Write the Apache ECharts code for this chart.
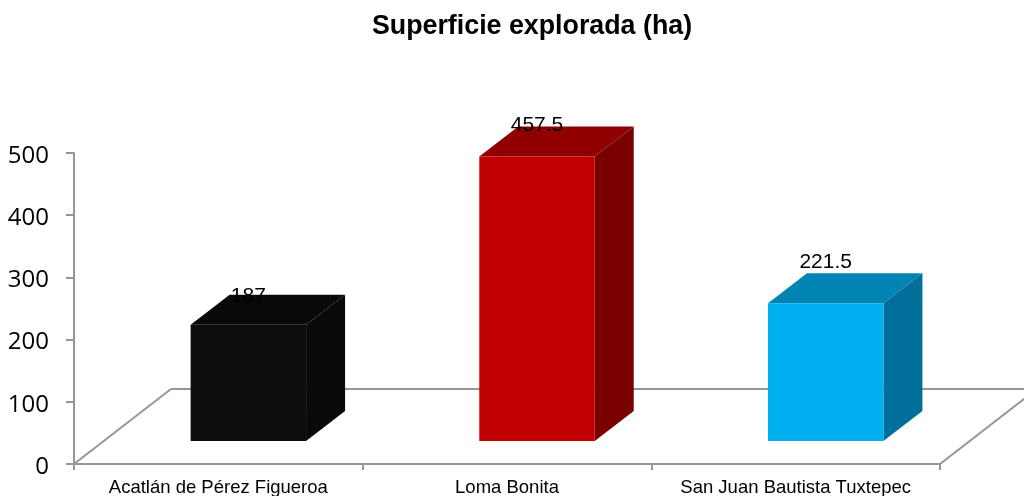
<!DOCTYPE html>
<html>
<head>
<meta charset="utf-8">
<style>html,body{margin:0;padding:0;background:#fff}#c{width:1024px;height:496px}</style>
<script src="https://cdn.jsdelivr.net/npm/echarts@6/dist/echarts.min.js"></script>
</head>
<body>
<div id="c"></div>
<script>
const categories = ['Acatlán de Pérez Figueroa', 'Loma Bonita', 'San Juan Bautista Tuxtepec'];
const values = [187, 457.5, 221.5];
const labels = ['187', '457.5', '221.5'];
const labelLift = [28, 31, 41];
const frontColors = ['#0d0d0d', '#c00000', '#00b0f0'];
const topColors = ['#090909', '#900000', '#0084b4'];
const sideColors = ['#0a0a0a', '#7a0000', '#00709a'];

const AXIS = '#969696';
const DEPTH_X = 39, DEPTH_Y = 30, BASE_LIFT = 23;

function renderBar(params, api) {
  const i = api.value(0), v = api.value(1);
  const band = api.size([1, 0])[0];
  const c0 = api.coord([i, 0]), cv = api.coord([i, v]);
  const w = band * 0.4;
  const x0 = c0[0] + band * 0.104 - w / 2;
  const x1 = x0 + w;
  const yb = c0[1] - BASE_LIFT;
  const yt = cv[1] - BASE_LIFT;
  const dx = DEPTH_X, dy = DEPTH_Y;
  const poly = (pts, fill) => ({ type: 'polygon', shape: { points: pts }, style: { fill: fill } });
  return {
    type: 'group',
    children: [
      poly([[x1, yb], [x1 + dx, yb - dy], [x1 + dx, yt - dy], [x1, yt]], sideColors[i]),
      poly([[x0, yt], [x0 + dx, yt - dy], [x1 + dx, yt - dy], [x1, yt]], topColors[i]),
      poly([[x0, yb], [x1, yb], [x1, yt], [x0, yt]], frontColors[i]),
      { type: 'text', style: {
          text: labels[i], x: (x0 + x1) / 2, y: yt - labelLift[i],
          fill: '#000', font: '21px "Liberation Sans"', align: 'center', verticalAlign: 'middle' } }
    ]
  };
}

function renderFloor(params, api) {
  const band = api.size([1, 0])[0];
  const first = api.coord([0, 0]), last = api.coord([categories.length - 1, 0]);
  const a = [first[0] - band / 2, first[1]], b = [last[0] + band / 2, last[1]];
  const floorDx = 97, floorDy = 75;
  const line = (p, q) => ({ type: 'line', shape: { x1: p[0], y1: p[1], x2: q[0], y2: q[1] },
    style: { stroke: AXIS, lineWidth: 2 } });
  return {
    type: 'group',
    children: [
      line(a, [a[0] + floorDx, a[1] - floorDy]),
      line([a[0] + floorDx, a[1] - floorDy], [b[0] + floorDx, a[1] - floorDy]),
      line(b, [b[0] + floorDx, b[1] - floorDy])
    ]
  };
}

const chart = echarts.init(document.getElementById('c'), null, { renderer: 'canvas' });
chart.setOption({
  animation: false,
  backgroundColor: '#fff',
  title: {
    text: 'Superficie explorada (ha)', left: 527, top: 8, textAlign: 'center',
    textStyle: { fontFamily: 'Liberation Sans', fontSize: 26.8, fontWeight: 'bold', color: '#000' }
  },
  grid: { left: 74, right: 84, top: 153, bottom: 32, outerBoundsMode: 'none' },
  xAxis: {
    type: 'category', data: categories,
    axisLine: { lineStyle: { color: AXIS, width: 2 } },
    axisTick: { show: true, length: 6, alignWithLabel: false, lineStyle: { color: AXIS, width: 2 } },
    axisLabel: { fontFamily: 'Liberation Sans', fontSize: 18.5, color: '#000', margin: 14, interval: 0 },
    splitLine: { show: false }
  },
  yAxis: {
    type: 'value', min: 0, max: 500, interval: 100,
    axisLine: { show: true, lineStyle: { color: AXIS, width: 2 } },
    axisTick: { show: true, length: 8, lineStyle: { color: AXIS, width: 2 } },
    axisLabel: { fontFamily: 'Open Sans', fontSize: 24, color: '#000', margin: 25, verticalAlign: 'top', lineHeight: 6 },
    splitLine: { show: false }
  },
  series: [
    { type: 'custom', coordinateSystem: 'cartesian2d', renderItem: renderFloor, data: [[0, 0]], z: 1, silent: true, clip: false },
    { type: 'custom', coordinateSystem: 'cartesian2d', renderItem: renderBar,
      data: values.map((v, i) => [i, v]), encode: { x: 0, y: 1 }, z: 3, clip: false }
  ]
});
</script>
</body>
</html>
